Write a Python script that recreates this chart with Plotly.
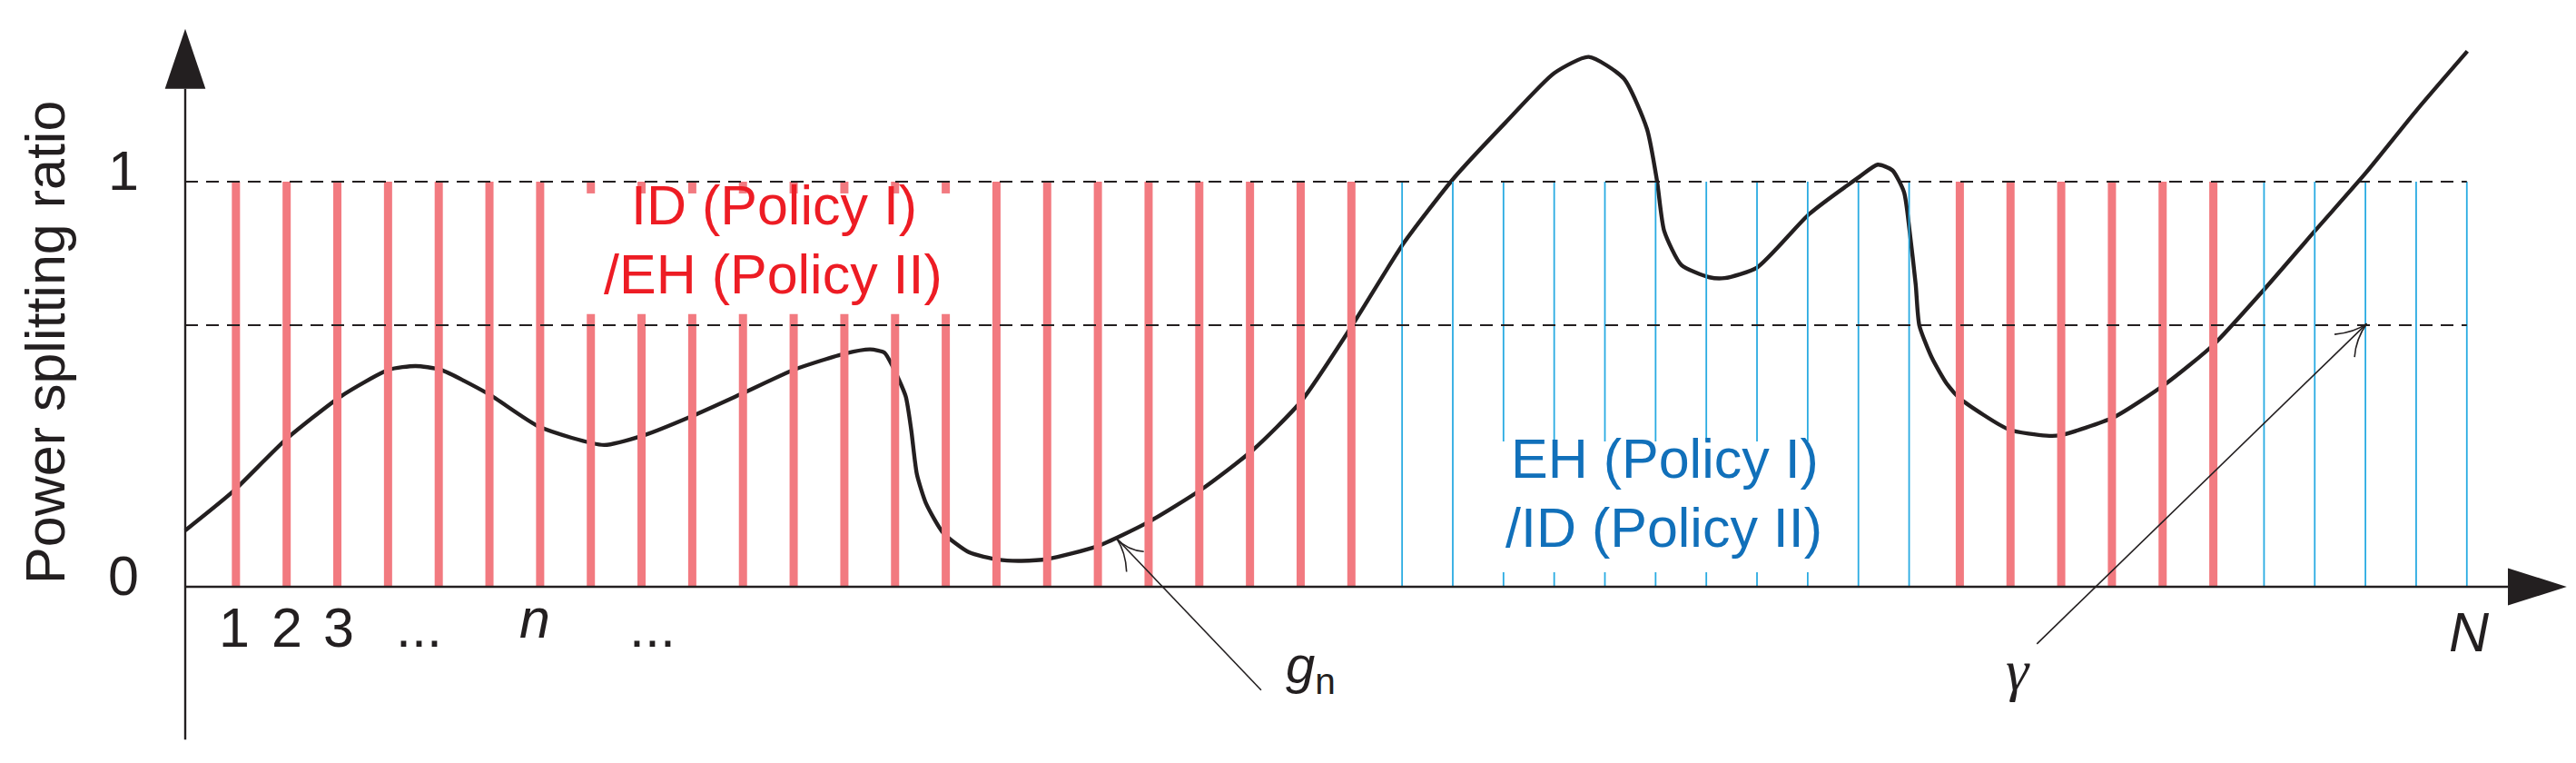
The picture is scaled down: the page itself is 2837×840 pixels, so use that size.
import plotly.graph_objects as go

# =====================================================
# Data
# =====================================================

# time slots 1..N, which policy each slot is assigned to
slots = list(range(1, 46))
red_slots = list(range(1, 24)) + list(range(35, 41))
blue_slots = [s for s in slots if s not in red_slots]

# threshold levels
level_one = 1.0
gamma = 0.646

# power splitting curve g_n
curve_x = [
    0.0, 0.94, 1.97, 3.07, 4.02, 4.54, 5.03, 5.98, 6.98, 8.26, 9.05,
    10.01, 11.0, 12.01, 13.02, 13.51, 13.79, 13.96, 14.21, 14.32, 14.43,
    14.61, 14.95, 15.46, 16.03, 16.49, 17.02, 17.99, 19.0, 20.05, 21.06,
    22.01, 23.01, 24.03, 25.03, 26.04, 27.0, 27.68, 28.37, 28.83, 29.03,
    29.17, 29.51, 30.06, 30.36, 31.0, 32.03, 33.02, 33.38, 33.67, 33.9,
    34.01, 34.13, 34.2, 34.45, 34.75, 35.02, 35.97, 36.71, 36.98, 38.03,
    39.05, 40.0, 41.01, 42.0, 43.01, 44.02, 45.01,
]
curve_y = [
    0.139, 0.235, 0.362, 0.470, 0.536, 0.545, 0.536, 0.476, 0.395, 0.350,
    0.374, 0.422, 0.478, 0.536, 0.576, 0.586, 0.578, 0.542, 0.470, 0.386,
    0.278, 0.206, 0.133, 0.085, 0.067, 0.064, 0.069, 0.100, 0.160, 0.241,
    0.338, 0.458, 0.644, 0.848, 1.010, 1.146, 1.268, 1.308, 1.255, 1.130,
    1.000, 0.878, 0.794, 0.764, 0.762, 0.788, 0.920, 1.012, 1.042, 1.028,
    0.974, 0.878, 0.746, 0.646, 0.565, 0.500, 0.463, 0.388, 0.373, 0.374,
    0.418, 0.500, 0.597, 0.735, 0.878, 1.022, 1.178, 1.322,
]

# axis labels
slot_labels = ["1", "2", "3", "...", "<i>n</i>", "..."]
slot_label_x = [0.97, 2.0, 3.03, 4.62, 6.9, 9.22]
level_labels = ["0", "1"]

# label boxes that interrupt the slot bars: (x0, x1, y0, y1)
red_box = (7.8, 15.3, 0.673, 0.971)
blue_box = (25.6, 32.4, 0.036, 0.359)

# =====================================================
# Style
# =====================================================

INK = "#231F20"
RED_BAR = "#F27A80"
BLUE_BAR = "#29ABE2"
RED_TEXT = "#ED1C24"
BLUE_TEXT = "#1170BA"
FONT = "Liberation Sans, Arial, sans-serif"
FS = 61
LIFT = 0.026  # text baseline correction

X_RANGE = [-3.510, 47.296]
Y_RANGE = [-0.4529, 1.4305]


def bar_segments(cols, top, box):
    xs, ys = [], []
    for c in cols:
        if box[0] <= c <= box[1]:
            xs += [c, c, None, c, c, None]
            ys += [0, box[2], None, box[3], top, None]
        else:
            xs += [c, c, None]
            ys += [0, top, None]
    return xs, ys


fig = go.Figure()

# curve
fig.add_trace(go.Scatter(
    x=curve_x, y=curve_y, mode="lines",
    line=dict(color=INK, width=4.4, shape="spline", smoothing=0.6),
    hoverinfo="skip",
))

# slot bars
rx, ry = bar_segments(red_slots, level_one, red_box)
fig.add_trace(go.Scatter(x=rx, y=ry, mode="lines",
                         line=dict(color=RED_BAR, width=9), hoverinfo="skip"))
bx, by = bar_segments(blue_slots, level_one, blue_box)
fig.add_trace(go.Scatter(x=bx, y=by, mode="lines",
                         line=dict(color=BLUE_BAR, width=1.8), hoverinfo="skip"))

# dashed levels
for lv in (level_one, gamma):
    fig.add_trace(go.Scatter(
        x=[0, slots[-1]], y=[lv, lv], mode="lines",
        line=dict(color=INK, width=2, dash="14px,9px"), hoverinfo="skip",
    ))

# =====================================================
# Axes and pointer arrows
# =====================================================

shapes = [
    dict(type="line", x0=0, x1=0, y0=-0.377, y1=1.229,
         line=dict(color=INK, width=2.4)),
    dict(type="path", path="M -0.40,1.229 L 0.40,1.229 L 0,1.377 Z",
         fillcolor=INK, line=dict(width=0)),
    dict(type="line", x0=0, x1=45.81, y0=0, y1=0,
         line=dict(color=INK, width=2.4)),
    dict(type="path", path="M 45.81,-0.046 L 45.81,0.046 L 46.97,0 Z",
         fillcolor=INK, line=dict(width=0)),
]

shapes += [
    dict(type="line", x0=21.22, y0=-0.255, x1=18.37, y1=0.119,
         line=dict(color=INK, width=1.6)),
    dict(type="path", path="M 18.37,0.119 Q 18.59,0.090 18.906,0.087",
         line=dict(color=INK, width=1.6)),
    dict(type="path", path="M 18.37,0.119 Q 18.55,0.085 18.566,0.037",
         line=dict(color=INK, width=1.6)),
    dict(type="line", x0=36.52, y0=-0.141, x1=43.025, y1=0.6495,
         line=dict(color=INK, width=1.6)),
    dict(type="path", path="M 43.025,0.6495 Q 42.78,0.628 42.39,0.623",
         line=dict(color=INK, width=1.6)),
    dict(type="path", path="M 43.025,0.6495 Q 42.81,0.611 42.785,0.567",
         line=dict(color=INK, width=1.6)),
]

# =====================================================
# Text
# =====================================================

ann = []


def text(x, y, s, color=INK, size=FS, xanchor="center", angle=0, family=FONT):
    ann.append(dict(x=x, y=y + LIFT, text=s, showarrow=False, xanchor=xanchor,
                    yanchor="middle", textangle=angle,
                    font=dict(family=family, size=size, color=color)))


ann.append(dict(x=-2.76, y=0.603, text="Power splitting ratio", showarrow=False,
                textangle=-90, xanchor="center", yanchor="middle",
                font=dict(family=FONT, size=FS, color=INK)))
text(-0.87, 0.0, level_labels[0], xanchor="right")
text(-0.87, 1.0, level_labels[1], xanchor="right")

for lx, lab in zip(slot_label_x, slot_labels):
    dy = 0.022 if "n" in lab else 0.0
    text(lx, -0.127 + dy, lab)

text(45.04, -0.137, "<i>N</i>")
text(22.2, -0.228, "<i>g</i><sub>n</sub>", size=58)
text(36.14, -0.232, "<i>γ</i>", family="Liberation Serif, Times New Roman, serif", size=64)

text(11.62, 0.916, "ID (Policy I)", color=RED_TEXT)
text(11.59, 0.745, "/EH (Policy II)", color=RED_TEXT)
text(29.19, 0.290, "EH (Policy I)", color=BLUE_TEXT)
text(29.17, 0.120, "/ID (Policy II)", color=BLUE_TEXT)

# =====================================================
# Layout
# =====================================================

fig.update_layout(
    width=2837,
    height=840,
    margin=dict(l=0, r=0, t=0, b=0, pad=0),
    paper_bgcolor="white",
    plot_bgcolor="white",
    showlegend=False,
    shapes=shapes,
    annotations=ann,
    xaxis=dict(range=X_RANGE, visible=False, fixedrange=True),
    yaxis=dict(range=Y_RANGE, visible=False, fixedrange=True),
)

fig.write_html("out.html", config={"displayModeBar": False})
